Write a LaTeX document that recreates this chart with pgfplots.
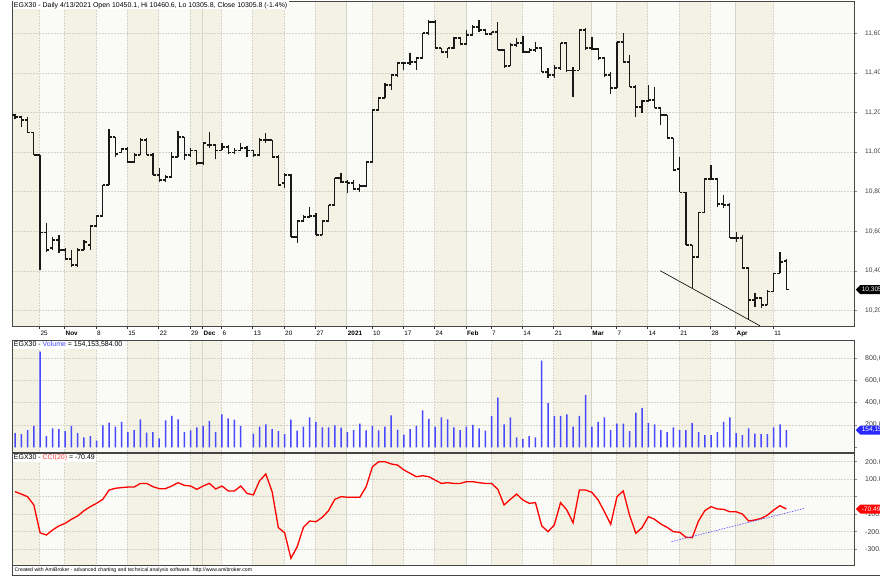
\documentclass[border=0pt]{standalone}
\usepackage{pgfplots}
\pgfplotsset{compat=1.18}
\usepackage{pgfplotstable}
\usepackage{fontspec}
\setmainfont{Liberation Sans}
\usetikzlibrary{shapes.symbols}
\definecolor{beige}{RGB}{243,242,229}
\definecolor{lightbg}{RGB}{250,250,246}
\definecolor{gridc}{RGB}{212,212,200}
\definecolor{volblue}{RGB}{72,72,255}
\definecolor{tagblue}{RGB}{40,40,255}
\definecolor{frame}{RGB}{70,70,70}
\definecolor{axgray}{RGB}{140,140,140}
\definecolor{tlab}{RGB}{60,60,60}

\newcommand{\ttfont}{\fontsize{7}{8}\selectfont}
\newcommand{\ylfont}{\fontsize{6.6}{7}\selectfont}
\newcommand{\xlfont}{\fontsize{6.4}{7}\selectfont}

\pgfdeclareplotmark{otick}{\pgfpathmoveto{\pgfpoint{-2.7bp}{0pt}}\pgfpathlineto{\pgfpoint{0pt}{0pt}}\pgfusepathqstroke}
\pgfdeclareplotmark{ctick}{\pgfpathmoveto{\pgfpoint{0pt}{0pt}}\pgfpathlineto{\pgfpoint{2.7bp}{0pt}}\pgfusepathqstroke}

\newcommand{\vg}[3]{\draw[gridc, densely dotted, line width=0.5bp] (axis cs:#1,#2) -- (axis cs:#1,#3);}
\newcommand{\vgs}[3]{\draw[gridc, line width=0.5bp] (axis cs:#1,#2) -- (axis cs:#1,#3);}
\newcommand{\bands}[2]{%
\fill[beige] (axis cs:-0.48,#1) rectangle (axis cs:3.9,#2);
\fill[beige] (axis cs:7.9,#1) rectangle (axis cs:12.9,#2);
\fill[beige] (axis cs:17.9,#1) rectangle (axis cs:22.9,#2);
\fill[beige] (axis cs:27.9,#1) rectangle (axis cs:32.9,#2);
\fill[beige] (axis cs:37.9,#1) rectangle (axis cs:42.9,#2);
\fill[beige] (axis cs:47.9,#1) rectangle (axis cs:52.9,#2);
\fill[beige] (axis cs:56.9,#1) rectangle (axis cs:61.9,#2);
\fill[beige] (axis cs:66.9,#1) rectangle (axis cs:71.9,#2);
\fill[beige] (axis cs:75.9,#1) rectangle (axis cs:80.9,#2);
\fill[beige] (axis cs:85.9,#1) rectangle (axis cs:91.9,#2);
\fill[beige] (axis cs:95.9,#1) rectangle (axis cs:100.9,#2);
\fill[beige] (axis cs:105.9,#1) rectangle (axis cs:110.9,#2);
\fill[beige] (axis cs:114.9,#1) rectangle (axis cs:120.9,#2);
\vg{3.9}{#1}{#2}\vg{7.9}{#1}{#2}\vg{12.9}{#1}{#2}\vg{17.9}{#1}{#2}\vg{22.9}{#1}{#2}
\vg{27.9}{#1}{#2}\vgs{29.9}{#1}{#2}\vg{32.9}{#1}{#2}\vg{37.9}{#1}{#2}\vg{42.9}{#1}{#2}
\vg{47.9}{#1}{#2}\vgs{52.9}{#1}{#2}\vg{56.9}{#1}{#2}\vg{61.9}{#1}{#2}\vg{66.9}{#1}{#2}
\vgs{71.9}{#1}{#2}\vg{75.9}{#1}{#2}\vg{80.9}{#1}{#2}\vg{85.9}{#1}{#2}\vgs{91.9}{#1}{#2}
\vg{95.9}{#1}{#2}\vg{100.9}{#1}{#2}\vg{105.9}{#1}{#2}\vg{110.9}{#1}{#2}\vgs{114.9}{#1}{#2}
\vg{120.9}{#1}{#2}
}
\newcommand{\hg}[1]{\draw[gridc, densely dotted, line width=0.5bp] (axis cs:-0.48,#1) -- (axis cs:133.8,#1);}

\pgfplotsset{
  pane/.style={
    scale only axis, width=842bp, anchor=south west,
    xmin=-0.48, xmax=133.8, axis on top,
    axis background/.style={fill=lightbg},
    axis line style={frame, line width=0.8bp},
    tick align=outside, major tick length=3bp,
    xtick={3.9,7.9,12.9,17.9,22.9,27.9,29.9,32.9,37.9,42.9,47.9,52.9,56.9,61.9,66.9,71.9,75.9,80.9,85.9,91.9,95.9,100.9,105.9,110.9,114.9,120.9},
    xtick pos=left, ytick pos=right, yticklabel pos=right,
    tick style={axgray, line width=0.5bp},
    yticklabel style={font=\ylfont, text=tlab, anchor=west, inner sep=0pt, xshift=8bp},
    scaled y ticks=false, minor tick num=0,
  }
}

\pgfplotstableread{
i O H L C
0 11187 11192 11167 11177
1 11177 11182 11127 11162
2 11162 11177 11096 11101
3 11101 11101 10985 10985
4 10985 10985 10405 10596
5 10596 10642 10495 10506
6 10516 10571 10506 10556
7 10556 10581 10490 10506
8 10506 10516 10455 10460
9 10460 10506 10420 10430
10 10430 10516 10420 10506
11 10506 10556 10506 10546
12 10531 10632 10506 10627
13 10627 10682 10622 10677
14 10677 10834 10672 10834
15 10834 11117 10834 11076
16 11076 11076 10975 10990
17 11000 11021 10995 11016
18 11016 11026 10945 10950
19 10950 10995 10945 10985
20 10985 11071 10985 11061
21 11061 11071 10985 10985
22 10985 10995 10884 10884
23 10884 10920 10849 10859
24 10859 10884 10849 10874
25 10874 11000 10874 10975
26 10975 11106 10975 11076
27 11076 11076 10960 10985
28 10985 11021 10975 11010
29 11010 11010 10935 10945
30 10945 11046 10935 11046
31 11036 11101 11021 11036
32 11036 11036 10965 11010
33 11010 11046 11010 11026
34 11026 11036 10990 11000
35 11000 11021 10990 11010
36 11010 11046 11005 11021
37 11021 11031 10975 11010
38 11010 11010 10975 10985
39 10985 11071 10980 11061
40 11061 11096 11046 11061
41 11061 11061 10975 10975
42 10975 10985 10834 10834
43 10844 10894 10819 10884
44 10884 10889 10571 10571
45 10571 10657 10541 10652
46 10652 10682 10647 10672
47 10672 10723 10667 10677
48 10677 10692 10581 10581
49 10581 10657 10581 10652
50 10652 10733 10647 10733
51 10733 10869 10733 10869
52 10869 10894 10844 10849
53 10849 10859 10793 10844
54 10844 10859 10809 10814
55 10814 10839 10798 10829
56 10829 10950 10824 10950
57 10950 11213 10945 11213
58 11213 11278 11213 11273
59 11273 11349 11273 11339
60 11339 11389 11314 11389
61 11389 11455 11379 11450
62 11450 11455 11414 11450
63 11450 11500 11440 11455
64 11455 11480 11414 11475
65 11475 11601 11475 11601
66 11601 11667 11591 11657
67 11657 11667 11521 11526
68 11526 11526 11500 11505
69 11505 11526 11475 11526
70 11526 11581 11521 11576
71 11576 11581 11541 11546
72 11546 11617 11541 11591
73 11591 11642 11591 11632
74 11632 11667 11606 11617
75 11617 11622 11591 11596
76 11596 11606 11591 11606
77 11606 11657 11516 11516
78 11516 11521 11425 11435
79 11435 11551 11435 11541
80 11541 11576 11531 11551
81 11551 11586 11500 11505
82 11505 11526 11500 11516
83 11516 11556 11505 11526
84 11526 11531 11404 11404
85 11404 11425 11374 11389
86 11389 11440 11374 11425
87 11425 11551 11414 11551
88 11551 11551 11404 11414
89 11414 11430 11278 11414
90 11414 11617 11414 11617
91 11617 11627 11516 11526
92 11526 11581 11516 11521
93 11521 11526 11465 11475
94 11475 11480 11379 11389
95 11389 11404 11293 11324
96 11324 11556 11324 11556
97 11556 11601 11455 11455
98 11455 11490 11329 11329
99 11329 11339 11177 11228
100 11228 11263 11197 11258
101 11258 11339 11253 11263
102 11263 11329 11223 11223
103 11223 11223 11137 11187
104 11187 11187 11071 11071
105 11071 11071 10910 10910
106 10915 10975 10798 10798
107 10798 10798 10531 10531
108 10531 10531 10314 10470
109 10470 10697 10470 10697
110 10697 10869 10692 10864
111 10864 10935 10859 10864
112 10864 10869 10723 10738
113 10738 10783 10718 10733
114 10733 10743 10566 10566
115 10566 10596 10546 10566
116 10566 10581 10415 10415
117 10415 10415 10152 10253
118 10253 10288 10218 10263
119 10263 10268 10213 10228
120 10228 10304 10228 10298
121 10298 10389 10293 10389
122 10389 10495 10389 10445
123 10450.1 10460.6 10305.8 10305.8
}\price

\pgfplotstableread{
i V
0 126
1 119
2 155
3 191
4 857
5 101
6 170
7 164
8 146
9 191
10 126
11 90
12 101
13 59
14 197
15 221
16 185
17 227
18 137
19 155
20 251
21 131
22 137
23 81
24 242
25 281
26 251
27 137
28 152
29 179
30 191
31 236
32 137
33 296
34 260
35 248
36 191
38 122
39 185
40 206
41 164
42 146
43 117
44 248
45 149
46 185
47 269
48 227
49 179
50 179
51 197
52 176
53 137
54 155
55 212
56 152
57 191
58 152
59 185
60 287
61 158
62 113
63 164
64 191
65 332
66 254
67 185
68 269
69 251
70 179
71 155
72 185
73 200
74 170
75 149
76 281
77 445
78 206
79 269
80 90
81 74
82 101
83 90
84 777
85 395
86 281
87 281
88 296
89 185
90 281
91 469
92 185
93 227
94 269
95 155
96 212
97 212
98 146
99 310
100 352
101 218
102 206
103 155
104 137
105 179
106 155
107 155
108 218
109 137
110 108
111 108
112 137
113 227
114 269
115 128
116 108
117 170
118 122
119 117
120 117
121 179
122 206
123 154.15
}\vol

\pgfplotstableread{
i c
0 29
1 15
2 0
3 -47
4 -206
5 -219
6 -190
7 -167
8 -152
9 -129
10 -110
11 -80
12 -57
13 -38
14 -15
15 38
16 48
17 52
18 55
19 55
20 76
21 76
22 57
23 46
24 46
25 61
26 80
27 65
28 61
29 42
30 61
31 76
32 44
33 61
34 33
35 33
36 61
37 19
38 10
39 91
40 130
41 29
42 -177
43 -206
44 -352
45 -286
46 -175
47 -139
48 -143
49 -118
50 -80
51 -15
52 0
53 -3
54 -3
55 -3
56 57
57 171
58 200
59 200
60 187
61 181
62 153
63 134
64 114
65 120
66 114
67 95
68 76
69 80
70 76
71 76
72 86
73 86
74 80
75 76
76 76
77 42
78 -47
79 -15
80 15
81 -19
82 -38
83 -34
84 -167
85 -200
86 -162
87 -34
88 -76
89 -149
90 38
91 38
92 25
93 -19
94 -86
95 -158
96 0
97 33
98 -105
99 -209
100 -177
101 -114
102 -129
103 -156
104 -175
105 -200
106 -203
107 -232
108 -234
109 -139
110 -80
111 -57
112 -70
113 -72
114 -86
115 -86
116 -99
117 -139
118 -133
119 -124
120 -105
121 -76
122 -51
123 -70.49
}\cci

\begin{document}
\begin{tikzpicture}[x=1bp,y=1bp]

% ---------- price pane ----------
\begin{axis}[pane, at={(12bp,252bp)}, height=325bp, ymin=10122, ymax=11763,
  ytick={10200,10400,10600,10800,11000,11200,11400,11600},
  yticklabels={{10,200},{10,400},{10,600},{10,800},{11,000},{11,200},{11,400},{11,600}},
  xticklabels={25,\textbf{Nov},8,15,22,29,\textbf{Dec},6,13,20,27,\textbf{2021},10,17,24,\textbf{Feb},7,14,21,\textbf{Mar},7,14,21,28,\textbf{Apr},11},
  xticklabel style={font=\xlfont, text=black, anchor=west, inner sep=0pt, xshift=1bp, yshift=-4.5bp},
  x tick style={black!80}]
\bands{10122}{11763}
\hg{10200}\hg{10400}\hg{10600}\hg{10800}\hg{11000}\hg{11200}\hg{11400}\hg{11600}
\addplot[draw=none, mark=none, error bars/.cd, y dir=plus, y explicit, error mark=none,
  error bar style={draw=black!90, line width=1.2bp}]
  table[x=i, y=L, y error expr=\thisrow{H}-\thisrow{L}] {\price};
\addplot[only marks, mark=otick, mark options={line width=1.2bp, black!90}] table[x=i, y=O] {\price};
\addplot[only marks, mark=ctick, mark options={line width=1.2bp, black!90}] table[x=i, y=C] {\price};
\addplot[black, line width=0.6bp] coordinates {(102.9,10401) (118.8,10123)};
\coordinate (ptag) at (axis cs:133.8,10305.8);
\end{axis}

% ---------- volume pane ----------
\begin{axis}[pane, at={(12bp,126bp)}, height=112bp, ymin=-42.2, ymax=962.3,
  ytick={0,200,400,600,800},
  yticklabels={,{200,000,000},{400,000,000},{600,000,000},{800,000,000}},
  yticklabel style={font=\fontsize{7}{8}\selectfont},
  xmajorticks=false]
\bands{-42.2}{962.3}
\hg{200}\hg{400}\hg{600}\hg{800}
\addplot[ybar, bar width=1.5bp, bar shift=0pt, fill=volblue, draw=none] table[x=i, y=V] {\vol};
\coordinate (vtag) at (axis cs:133.8,154.15);
\end{axis}

% ---------- CCI pane ----------
\begin{axis}[pane, at={(12bp,13bp)}, height=112bp, ymin=-390.3, ymax=249.7,
  ytick={-300,-200,-100,0,100,200},
  yticklabels={-300.00,-200.00,-100.00,,100.00,200.00},
  yticklabel style={font=\fontsize{7}{8}\selectfont},
  xmajorticks=false]
\bands{-390.3}{249.7}
\hg{-300}\hg{-200}\hg{-100}\hg{0}\hg{100}\hg{200}
\addplot[red, line width=1.3bp] table[x=i, y=c] {\cci};
\addplot[blue!70, line width=0.6bp, dash pattern=on 1.5bp off 1.2bp] coordinates {(104.7,-257) (126,-66)};
\coordinate (ctag) at (axis cs:133.8,-70.49);
\end{axis}

% ---------- value tags ----------
\node[signal, signal to=west, fill=black, text=white, font=\ylfont, inner xsep=1.5bp, inner ysep=1bp, minimum height=9bp, anchor=west] at ([xshift=1.5bp]ptag) {10,305.8};
\node[signal, signal to=west, fill=tagblue, text=white, font=\ylfont, inner xsep=1.5bp, inner ysep=1bp, minimum height=9bp, anchor=west] at ([xshift=1.5bp]vtag) {154,153,584};
\node[signal, signal to=west, fill=red, text=white, font=\ylfont, inner xsep=1.5bp, inner ysep=1bp, minimum height=9bp, anchor=west] at ([xshift=1.5bp]ctag) {-70.49};

% ---------- titles ----------
\node[anchor=north west, fill=white, inner xsep=1.2bp, inner ysep=1bp, font=\ttfont] at (12.6bp,577.2bp)
  {EGX30 - Daily 4/13/2021 Open 10450.1, Hi 10460.6, Lo 10305.8, Close 10305.8 (-1.4\%)};
\node[anchor=north west, fill=white, inner xsep=1.2bp, inner ysep=1bp, font=\ttfont] at (12.6bp,237.4bp)
  {EGX30 - \textcolor{volblue}{Volume} = 154,153,584.00};
\node[anchor=north west, fill=white, inner xsep=1.2bp, inner ysep=1bp, font=\ttfont] at (12.6bp,124.4bp)
  {EGX30 - \textcolor{red!75}{CCI(20)} = -70.49};

% ---------- footer ----------
\draw[frame, line width=0.8bp] (12bp,2.5bp) -- (12bp,13bp);
\draw[frame, line width=1bp] (12bp,2.5bp) -- (880bp,2.5bp);
\node[anchor=west, inner sep=0pt, font=\fontsize{5.2}{6}\selectfont] at (14.5bp,7.6bp)
  {Created with AmiBroker - advanced charting and technical analysis software. http://www.amibroker.com};

\pgfresetboundingbox
\useasboundingbox (0bp,0bp) rectangle (880bp,578bp);
\end{tikzpicture}
\end{document}
